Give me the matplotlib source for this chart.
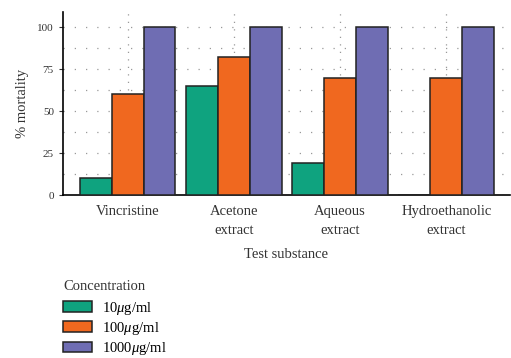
import matplotlib
matplotlib.use('Agg')
import matplotlib.pyplot as plt
from matplotlib.patches import Patch
import numpy as np

substances = ['Vincristine', 'Acetone\nextract', 'Aqueous\nextract', 'Hydroethanolic\nextract']
concentrations = ['10$\\mu$g/ml', '100$\\mu$g/ml', '1000$\\mu$g/ml']
mort_10 = [10, 65, 19, 0]
mort_100 = [60, 82, 70, 70]
mort_1000 = [100, 100, 100, 100]
colors = ['#0fa37f', '#f0681f', '#6f6db3']

plt.rcParams['font.family'] = ['Liberation Serif', 'DejaVu Serif']
plt.rcParams['mathtext.fontset'] = 'custom'
plt.rcParams['mathtext.it'] = 'Liberation Serif:italic'
plt.rcParams['mathtext.rm'] = 'Liberation Serif'

fig = plt.figure(figsize=(5.11, 3.58), dpi=100)
ax = fig.add_axes([0.123, 0.455, 0.875, 0.511])

x = np.arange(len(substances))
w = 0.3
for i, vals in enumerate([mort_10, mort_100, mort_1000]):
    ax.bar(x + (i - 1) * w, vals, w, color=colors[i], edgecolor='#222222',
           linewidth=1.1, zorder=3)

ax.set_xlim(-0.61, 3.6)
ax.set_ylim(0, 109)
ax.set_yticks([0, 25, 50, 75, 100])
ax.set_yticks(np.arange(12.5, 101, 12.5), minor=True)
ax.set_xticks(x)
ax.set_xticklabels(substances, fontsize=10.5, color='#333333', linespacing=1.6)
ax.tick_params(axis='y', labelsize=8, length=3, colors='#333333', which='major')
ax.tick_params(axis='y', which='minor', length=0)
ax.tick_params(axis='x', length=0, pad=7)
ax.grid(True, which='both', axis='y', linestyle=(0, (1, 8)), color='#999999',
        linewidth=0.9, zorder=0)
ax.grid(True, axis='x', linestyle=(0, (1, 5)), color='#999999', linewidth=0.9, zorder=0)
for s in ['top', 'right']:
    ax.spines[s].set_visible(False)
ax.spines['left'].set_linewidth(1.2)
ax.spines['bottom'].set_linewidth(1.2)
ax.set_ylabel('% mortality', fontsize=10.5, color='#333333', labelpad=6)
ax.set_xlabel('Test substance', fontsize=10.5, color='#333333', labelpad=8)

fig.text(63 / 511, 1 - 286 / 358, 'Concentration', fontsize=10.5, color='#333333',
         va='center', ha='left')
handles = [Patch(facecolor=c, edgecolor='#222222', linewidth=1.1) for c in colors]
leg = fig.legend(handles, concentrations, loc='upper left',
                 bbox_to_anchor=(0.123, 0.163), frameon=False, fontsize=10.5,
                 handlelength=2.0, handleheight=0.75,
                 handletextpad=0.7, labelspacing=0.22, borderpad=0.0,
                 borderaxespad=0.0)

fig.savefig('out.png', dpi=100)
